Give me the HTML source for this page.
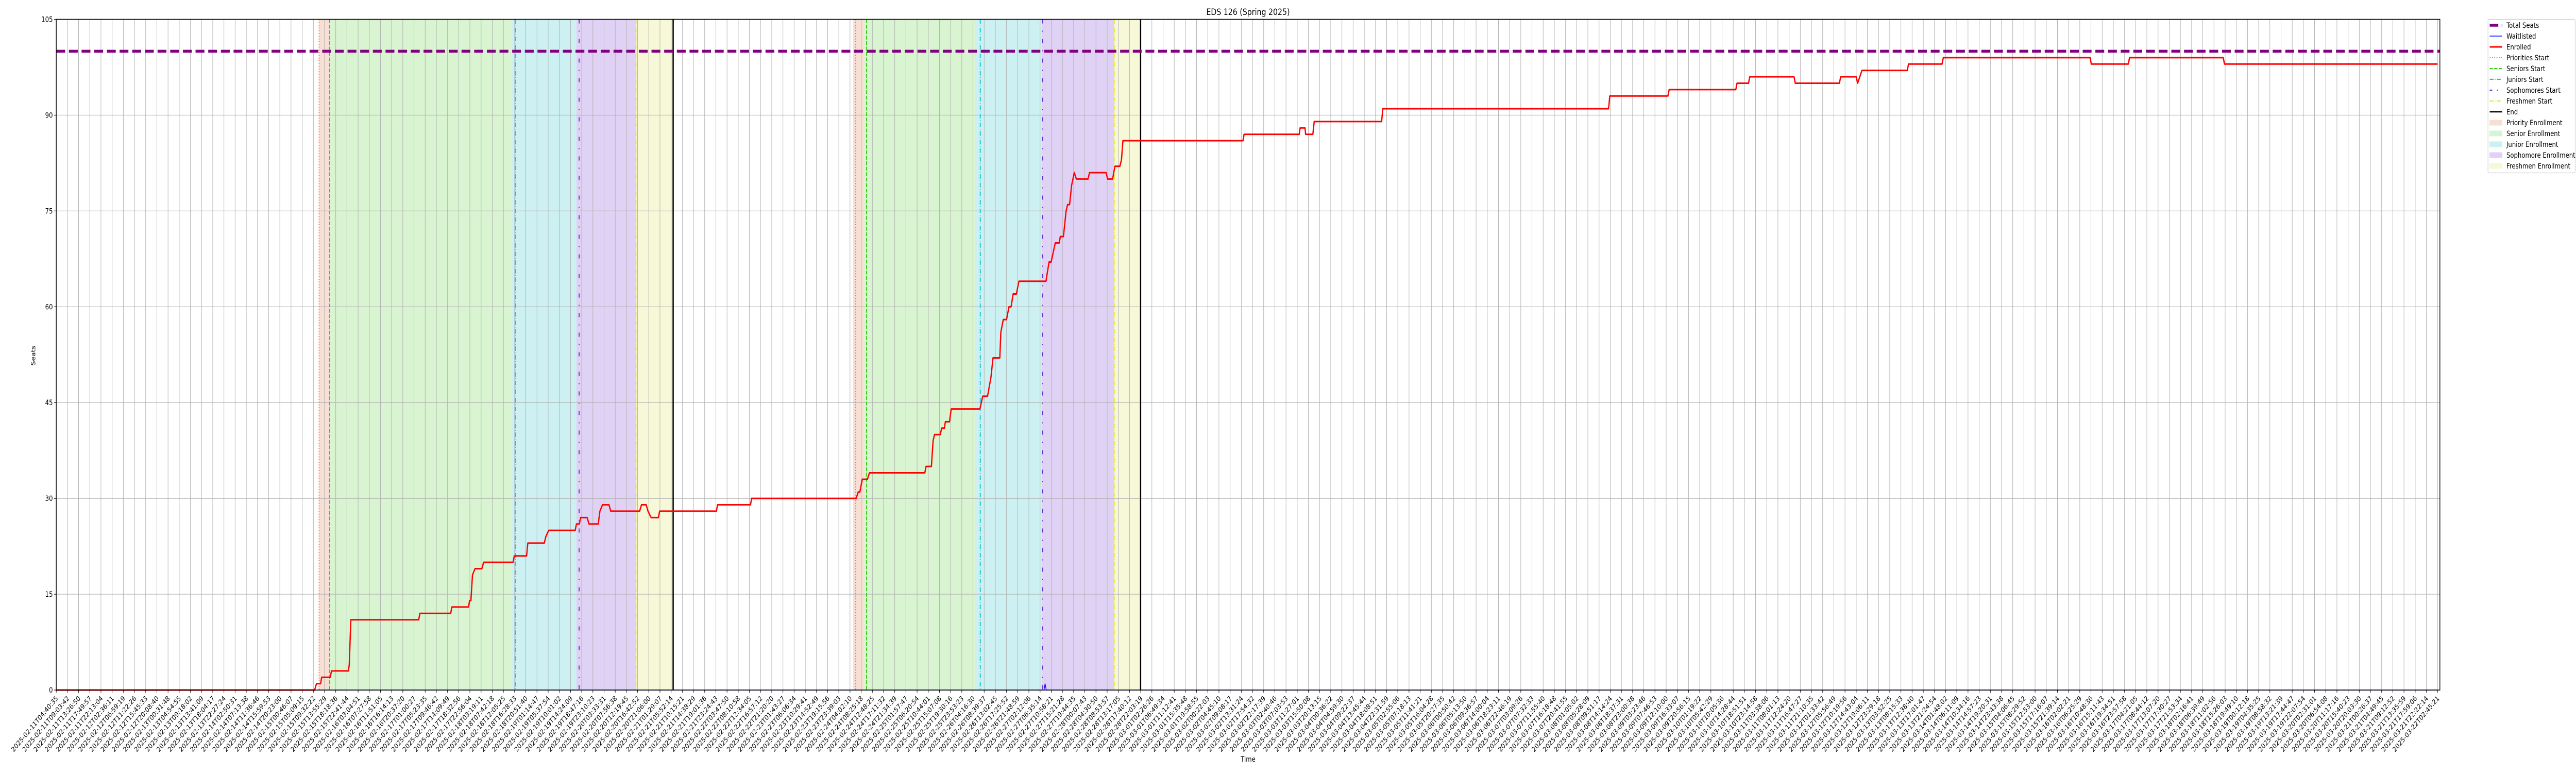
<!DOCTYPE html>
<html><head><meta charset="utf-8"><style>
html,body{margin:0;padding:0;background:#fff;width:100%;height:100%;overflow:hidden;}
svg{display:block;position:fixed;left:0;top:0;width:100vw;height:100vh;font-family:"DejaVu Sans","Liberation Sans",sans-serif;}
</style></head><body>
<svg id="chart" viewBox="0 0 6000 1500" preserveAspectRatio="none" xmlns="http://www.w3.org/2000/svg">
<rect x="0" y="0" width="6000" height="1500" fill="#fff"/>
<g id="shading"></g>
<g id="grid"></g>
<g id="vlines"></g>
<g id="series"></g>
<g id="axes"></g>
<text x="2907" y="29" text-anchor="middle" font-size="17" fill="#000">EDS 126 (Spring 2025)</text>
<text x="2907" y="1478" text-anchor="middle" font-size="14" fill="#000">Time</text>
<text transform="translate(82,690) rotate(-90)" text-anchor="middle" font-size="14" fill="#000">Seats</text>
<g id="legend"></g>
</svg>
<script>
// ---- data (x in tick-index units, y in seats) ----
const yTicks = [0, 15, 30, 45, 60, 75, 90, 105];
const startLabel = "2025-02-11T04:40:35";
const endLabel = "2025-03-22T02:45:21";
const tickCount = 214;
const totalSeats = [100];
const enrolledX = [0,23.11,23.28,23.65,23.74,24.51,24.62,26.14,26.21,26.35,32.42,32.53,35.28,35.39,36.88,36.97,37.09,37.23,37.46,38.07,38.23,40.86,40.97,42.07,42.18,43.65,43.79,44.05,46.42,46.53,46.79,46.90,47.49,47.65,48.48,48.63,48.86,49.44,49.60,52.18,52.35,52.77,52.93,53.21,53.86,53.97,59.05,59.15,62.1,62.2,71.55,71.73,71.88,72.10,72.56,72.74,77.69,77.80,78.28,78.43,78.56,79.07,79.20,79.44,79.53,79.90,80.05,82.62,82.87,83.30,83.61,83.79,84.40,84.49,84.71,85.00,85.22,85.41,85.59,85.88,86.11,88.53,88.80,88.99,89.36,89.72,89.81,90.09,90.33,90.46,90.64,90.82,91.06,91.25,92.29,92.42,93.91,94.04,94.49,94.59,94.70,95.14,95.28,95.41,106.15,106.25,111.18,111.26,111.7,111.75,112.40,112.52,118.55,118.66,138.85,138.96,144.16,144.27,150.23,150.34,151.37,151.48,155.44,155.55,159.5,159.61,161.0,161.13,161.51,165.57,165.68,168.68,168.79,181.92,182.03,185.34,185.45,193.83,193.94,213];
const enrolledY = [0,0,1,1,2,2,3,3,4,11,11,12,12,13,13,14,14,18,19,19,20,20,21,21,23,23,24,25,25,26,26,27,27,26,26,28,29,29,28,28,29,29,28,27,27,28,28,29,29,30,30,31,31,33,33,34,34,35,35,39,40,40,41,41,42,42,44,44,46,46,49,52,52,56,58,58,60,60,62,62,64,64,67,67,70,70,71,71,75,76,76,79,81,80,80,81,81,80,80,81,82,82,83,86,86,87,87,88,88,87,87,89,89,91,91,93,93,94,94,95,95,96,96,95,95,96,96,95,97,97,98,98,99,99,98,98,99,99,98,98];
const waitX = [0,88.35,88.45,88.55,213];
const waitY = [0,0,1,0,0];
const phaseNames = ["Priorities Start","Seniors Start","Juniors Start","Sophomores Start","Freshmen Start","End"];
const phaseCycle1 = [23.51,24.46,41.07,46.77,51.86,55.18];
const phaseCycle2 = [71.51,72.48,82.65,88.22,94.64,96.99];
const regionNames = ["Priority Enrollment","Senior Enrollment","Junior Enrollment","Sophomore Enrollment","Freshmen Enrollment"];
const regionBounds1 = [23.51,24.46,40.71,46.53,51.86,55.18];
const regionBounds2 = [71.27,72.28,82.16,88.16,94.64,96.99];

// ---- layout ----
const L=131, R=5683, T=37.5, B=1339;
const step=26.04;
const X=i=>L+i*step;
const Y=v=>B-(v/105)*(B-T);
const NS="http://www.w3.org/2000/svg";
function mk(tag,attrs,parent){const e=document.createElementNS(NS,tag);for(const k in attrs)e.setAttribute(k,attrs[k]);parent.appendChild(e);return e;}
const gShade=document.getElementById('shading'),gGrid=document.getElementById('grid'),gV=document.getElementById('vlines'),gS=document.getElementById('series'),gA=document.getElementById('axes'),gL=document.getElementById('legend');
const regionColors=["#f7dfd4","#d8f4d0","#cdf1f3","#e0d2f5","#f7f8d8"];
const phaseStyles=[
 {c:"#f0693a",w:2,d:"2,3.3"},{c:"#33cc11",w:2.2,d:"7.4,3.2"},{c:"#11c4cc",w:2.2,d:"8.9,3.2,1.4,3.2"},
 {c:"#6a2fd6",w:2.2,d:"8,14,2,14"},{c:"#e3e033",w:2,d:"8.9,3.2,1.4,3.2"},{c:"#000",w:3,d:""}];
[regionBounds1,regionBounds2].forEach((rb,ci)=>{
 for(let k=0;k<5;k++){
  const r=mk('rect',{x:X(rb[k]),y:T,width:X(rb[k+1])-X(rb[k]),height:B-T,fill:regionColors[k]},gShade);
  
  
 }
});
for(let i=0;i<tickCount;i++){
 const l=mk('line',{x1:X(i),x2:X(i),y1:T,y2:B,stroke:"#b0b0b0","stroke-width":1.1},gGrid);
 
 
}
yTicks.forEach(v=>{
 const l=mk('line',{x1:L,x2:R,y1:Y(v),y2:Y(v),stroke:"#b0b0b0","stroke-width":1.1},gGrid);
 
 
});
[phaseCycle1,phaseCycle2].forEach((pc,ci)=>{
 pc.forEach((p,k)=>{
  const s=phaseStyles[k];
  const l=mk('line',{x1:X(p),x2:X(p),y1:T,y2:B,stroke:s.c,"stroke-width":s.w},gV);
  if(s.d)l.setAttribute('stroke-dasharray',s.d);
  
  
 });
});
const ts=mk('line',{x1:L,x2:R,y1:Y(totalSeats[0]),y2:Y(totalSeats[0]),stroke:"#800080","stroke-width":5.6,"stroke-dasharray":"20.6,8.9"},gS);


const wp=mk('polyline',{points:waitX.map((x,i)=>X(x)+','+Y(waitY[i])).join(' '),fill:"none",stroke:"#0000ff","stroke-width":1.6},gS);


const ep=mk('polyline',{points:enrolledX.map((x,i)=>X(x)+','+Y(enrolledY[i])).join(' '),fill:"none",stroke:"#ff0000","stroke-width":3,"stroke-linejoin":"round"},gS);


const fr=mk('rect',{x:L,y:T,width:R-L,height:B-T,fill:"none",stroke:"#000","stroke-width":1.6},gA);


yTicks.forEach(v=>{
 const t=mk('line',{x1:L-5,x2:L,y1:Y(v),y2:Y(v),stroke:"#000","stroke-width":1.1},gA);
 
 
 const tx=mk('text',{x:L-8,y:Y(v)+5,"text-anchor":"end","font-size":14,fill:"#000"},gA);
 tx.textContent=String(v);
 
 
});
const t0=Date.parse(startLabel+"Z"),t1=Date.parse(endLabel+"Z");
for(let i=0;i<tickCount;i++){
 const t=mk('line',{x1:X(i),x2:X(i),y1:B,y2:B+5,stroke:"#000","stroke-width":1.1},gA);
 
 
 const ms=t0+(t1-t0)*i/(tickCount-1);
 const lab=new Date(Math.round(ms/1000)*1000).toISOString().slice(0,19);
 const tx=mk('text',{transform:`translate(${X(i)+5},${B+17}) rotate(-45)`,"text-anchor":"end","font-size":13.5,fill:"#000"},gA);
 tx.textContent=(i===0?startLabel:(i===tickCount-1?endLabel:lab));
 
 
}
const lb=mk('rect',{x:5795,y:37.5,width:203,height:298,rx:3,fill:"#fff",stroke:"#cccccc","stroke-width":1.2},gL);


const legendItems=[
 {n:"Total Seats",t:"line",c:"#800080",w:5.6,d:"20,8"},
 {n:"Waitlisted",t:"line",c:"#0000ff",w:1.6,d:""},
 {n:"Enrolled",t:"line",c:"#ff0000",w:3,d:""},
 {n:"Priorities Start",t:"line",c:phaseStyles[0].c,w:2,d:phaseStyles[0].d},
 {n:"Seniors Start",t:"line",c:phaseStyles[1].c,w:2.2,d:phaseStyles[1].d},
 {n:"Juniors Start",t:"line",c:phaseStyles[2].c,w:2.2,d:phaseStyles[2].d},
 {n:"Sophomores Start",t:"line",c:phaseStyles[3].c,w:2.2,d:"6,11,2,11"},
 {n:"Freshmen Start",t:"line",c:phaseStyles[4].c,w:2,d:phaseStyles[4].d},
 {n:"End",t:"line",c:"#000",w:2.5,d:""},
 {n:"Priority Enrollment",t:"patch",c:regionColors[0]},
 {n:"Senior Enrollment",t:"patch",c:regionColors[1]},
 {n:"Junior Enrollment",t:"patch",c:regionColors[2]},
 {n:"Sophomore Enrollment",t:"patch",c:regionColors[3]},
 {n:"Freshmen Enrollment",t:"patch",c:regionColors[4]}];
legendItems.forEach((it,k)=>{
 const cy=49+k*21;
 const g=mk('g',{},gL);
 
 
 if(it.t==="line"){
  const l=mk('line',{x1:5799,x2:5828,y1:cy,y2:cy,stroke:it.c,"stroke-width":it.w},g);
  if(it.d)l.setAttribute('stroke-dasharray',it.d);
  
  
 }else{
  const r=mk('rect',{x:5799,y:cy-5,width:29,height:10,fill:it.c,stroke:it.c},g);
  
  
 }
 const tx=mk('text',{x:5838,y:cy+5,"font-size":14,fill:"#000"},g);
 tx.textContent=it.n;
 
 
});
</script>
</body></html>
